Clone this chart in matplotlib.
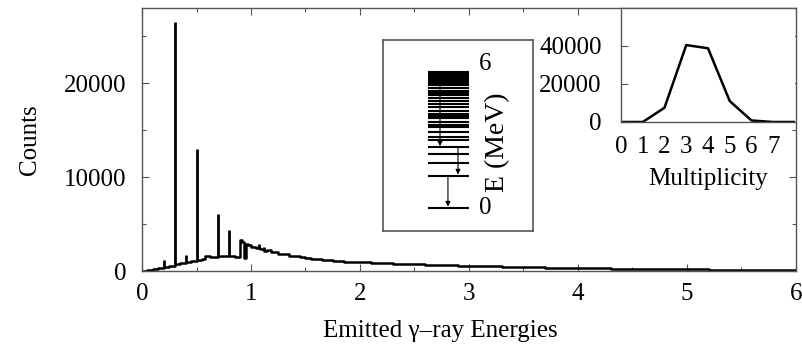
import matplotlib
matplotlib.use("Agg")
import matplotlib.pyplot as plt
from matplotlib.ticker import MultipleLocator

plt.rcParams['font.family'] = ['Liberation Serif', 'DejaVu Serif']

# --- gamma-ray spectrum: smooth continuum (bin start energy, counts) ---
cont_energy = [0.00, 0.05, 0.10, 0.15, 0.20, 0.25, 0.30, 0.35, 0.40, 0.45,
               0.50, 0.55, 0.58, 0.62, 0.65, 0.70, 0.75, 0.80, 0.85, 0.90,
               0.92, 0.94, 0.95, 0.97, 1.00, 1.05, 1.08, 1.10, 1.12, 1.15,
               1.18, 1.20, 1.25, 1.30, 1.35, 1.40, 1.45, 1.50, 1.55, 1.60,
               1.65, 1.70, 1.75, 1.80, 1.85, 1.90, 1.95, 2.00, 2.10, 2.20,
               2.30, 2.40, 2.50, 2.60, 2.70, 2.80, 2.90, 3.00, 3.10, 3.20,
               3.30, 3.40, 3.50, 3.60, 3.70, 3.80, 3.90, 4.00, 4.10, 4.20,
               4.30, 4.40, 4.50, 4.60, 4.70, 4.80, 4.90, 5.00, 5.10, 5.20,
               5.30, 5.40, 5.50, 5.60, 5.70, 5.80, 5.90, 6.00]
cont_counts = [0, 60, 200, 330, 430, 560, 720, 830, 950, 1060,
               1150, 1250, 1550, 1450, 1500, 1600, 1580, 1650, 1520, 3300,
               3100, 1400, 2900, 2800, 2600, 2500, 2300, 2350, 2150, 2250,
               2050, 2000, 1850, 1800, 1650, 1550, 1480, 1400, 1330, 1250,
               1200, 1160, 1090, 1060, 1010, 990, 950, 930, 870, 840,
               780, 760, 700, 670, 630, 600, 560, 540, 500, 480,
               450, 430, 400, 380, 360, 340, 320, 300, 280, 270,
               250, 240, 230, 215, 200, 195, 180, 175, 160, 150,
               140, 130, 120, 115, 100, 95, 85, 80]

# discrete transition lines
peak_energy = [0.20, 0.30, 0.40, 0.50, 0.70, 0.80, 1.07, 1.12]
peak_counts = [1150, 26500, 1700, 13000, 6100, 4350, 2850, 2600]

# --- multiplicity distribution ---
multiplicity = [0, 1, 2, 3, 4, 5, 6, 7, 8]
mult_counts = [0, 0, 7500, 40500, 38800, 11000, 800, 0, 0]

# --- level scheme (MeV) ---
levels = [0.0, 1.34, 1.85, 2.24, 2.52, 2.83, 2.94, 3.17, 3.38, 3.45,
          3.59, 3.73, 3.82, 3.93, 4.05, 4.21, 4.35, 4.46, 4.60, 4.70,
          4.77, 4.88, 4.98, 5.12, 5.17, 5.22, 5.27, 5.32, 5.37, 5.42,
          5.47, 5.52, 5.57, 5.62, 5.67]
# (x position, upper level, lower level)
transitions = [(0.38, 5.12, 2.52), (0.50, 2.52, 1.34), (0.433, 1.34, 0.0)]

W, H = 802, 346
SPINE = '#555555'
FS = 18


def rect(left, top, right, bottom):
    return [left / W, 1 - bottom / H, (right - left) / W, (bottom - top) / H]


fig = plt.figure(figsize=(W / 100, H / 100), dpi=100)

# main spectrum
ax = fig.add_axes(rect(142, 8, 796, 271))
ax.plot(cont_energy, cont_counts, drawstyle='steps-post', color='black', lw=1.8)
base = []
for e in peak_energy:
    idx = max(i for i, ce in enumerate(cont_energy) if ce <= e)
    base.append(cont_counts[idx])
ax.vlines(peak_energy, base, peak_counts, color='black', lw=2.0)
ax.set_xlim(0, 6)
ax.set_ylim(0, 28000)
ax.set_xticks([0, 1, 2, 3, 4, 5, 6])
ax.set_yticks([0, 10000, 20000])
ax.xaxis.set_minor_locator(MultipleLocator(0.5))
ax.yaxis.set_minor_locator(MultipleLocator(5000))
ax.tick_params(which='both', direction='in', top=True, right=True,
               color=SPINE, labelsize=FS)
ax.tick_params(which='major', length=5, width=0.8)
ax.tick_params(which='minor', length=3, width=0.8)
ax.tick_params(axis='y', pad=11)
ax.tick_params(axis='x', pad=9)
for s in ax.spines.values():
    s.set_color(SPINE)
    s.set_linewidth(1.0)
ax.set_ylabel('Counts', fontsize=FS, labelpad=17)
fig.text(440 / W, 1 - 331 / H, 'Emitted γ–ray Energies', fontsize=FS,
         ha='center', va='center')

# level scheme box
lv = fig.add_axes(rect(383, 40, 533, 231))
lv.set_xlim(0, 1)
lv.set_ylim(-0.97, 7.0)
lv.hlines(levels, 0.30, 0.573, color='black', lw=1.5)
for x, e_hi, e_lo in transitions:
    lv.annotate('', xy=(x, e_lo + 0.05), xytext=(x, e_hi),
                arrowprops=dict(arrowstyle='-|>', color='black', lw=0.8,
                                mutation_scale=7, shrinkA=0, shrinkB=0))
lv.text(0.68, 6.0, '6', fontsize=FS, ha='center', va='center')
lv.text(0.68, 0.0, '0', fontsize=FS, ha='center', va='center')
lv.text(0.767, 2.75, 'E (MeV)', fontsize=FS + 2, rotation=90,
        ha='center', va='center')
lv.set_xticks([])
lv.set_yticks([])
for s in lv.spines.values():
    s.set_color(SPINE)
    s.set_linewidth(1.2)

# multiplicity inset
mi = fig.add_axes(rect(621, 8, 795, 122))
mi.plot(multiplicity, mult_counts, color='black', lw=1.8)
mi.set_xlim(0, 8)
mi.set_ylim(0, 60000)
mi.set_xticks([0, 1, 2, 3, 4, 5, 6, 7])
mi.set_yticks([0, 20000, 40000])
mi.tick_params(axis='x', length=0, pad=10, labelsize=FS)
mi.tick_params(axis='y', direction='in', length=5, color=SPINE,
               pad=14, labelsize=FS)
mi.set_xlabel('Multiplicity', fontsize=FS, labelpad=7)
for s in mi.spines.values():
    s.set_color(SPINE)
    s.set_linewidth(1.0)
mi.spines['right'].set_visible(False)

fig.savefig('out.png', dpi=100)
